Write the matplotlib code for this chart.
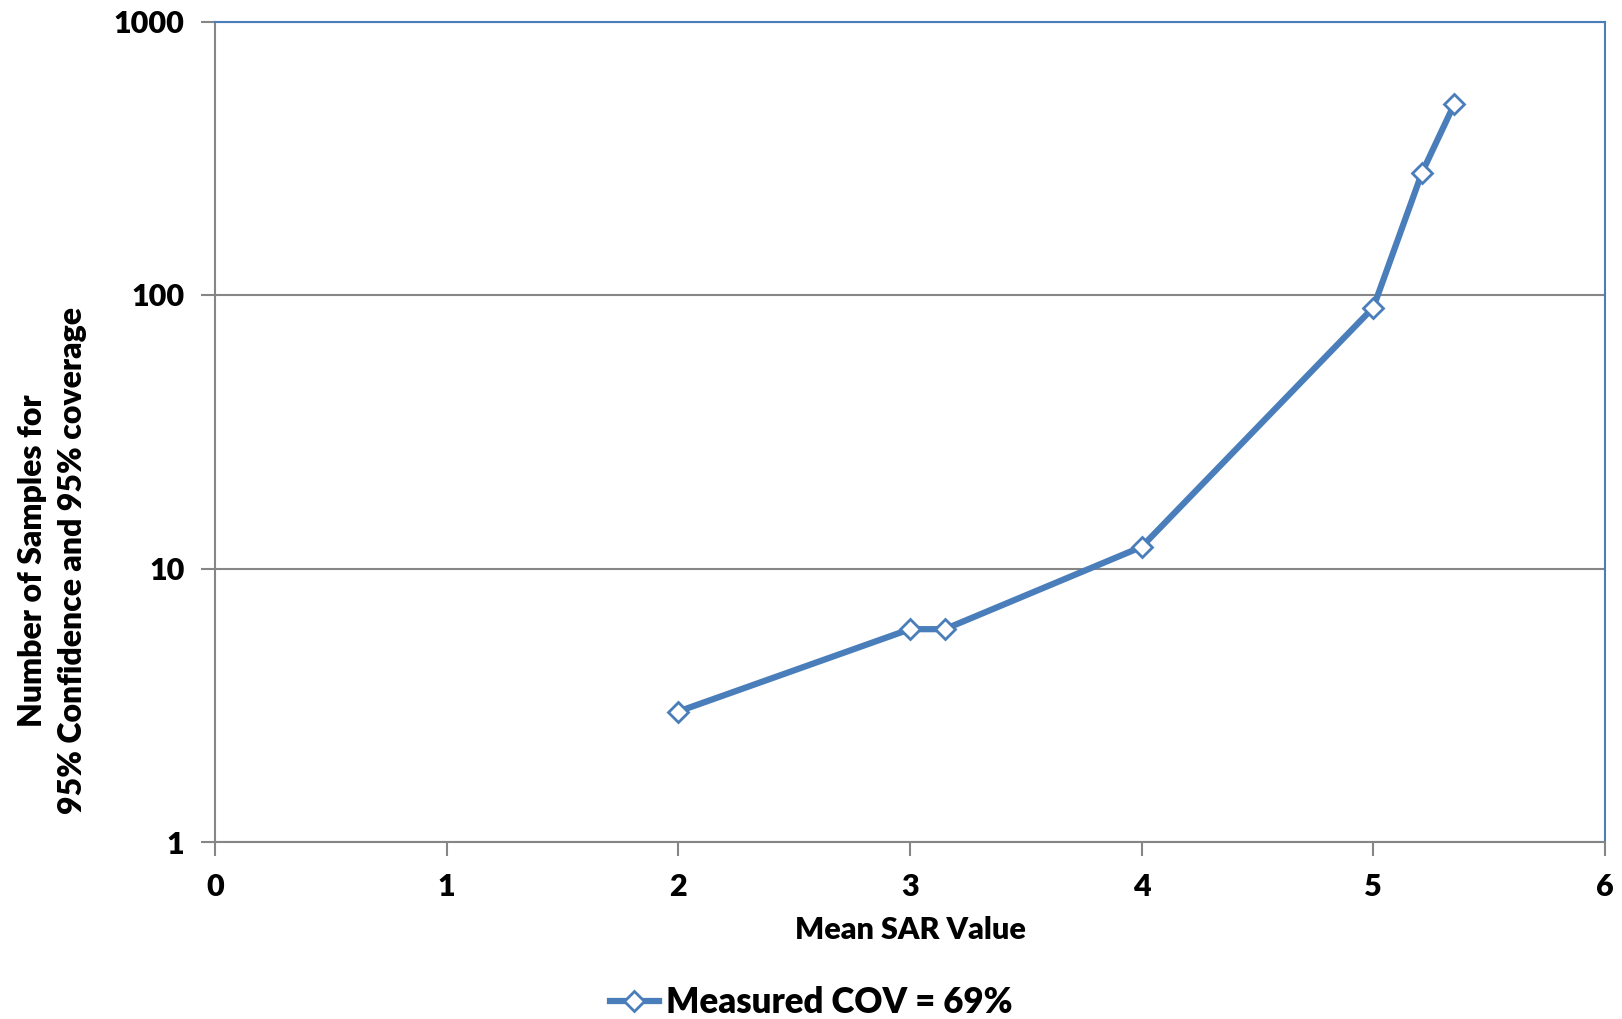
import matplotlib.pyplot as plt

# data
mean_sar = [2.0, 3.0, 3.15, 4.0, 5.0, 5.21, 5.35]
n_samples = [3, 6, 6, 12, 90, 280, 500]
series_label = "Measured COV = 69%"

x_ticks = [0, 1, 2, 3, 4, 5, 6]
y_ticks = [1, 10, 100, 1000]

blue = '#4A7EBB'
grey = '#868686'

plt.rcParams['font.family'] = ['Lato', 'DejaVu Sans']
plt.rcParams['font.weight'] = 'heavy'

fig = plt.figure(figsize=(16.22, 10.19), dpi=100)
ax = fig.add_axes([215 / 1622, 1 - 842 / 1019, (1605 - 215) / 1622, (842 - 21.5) / 1019])

ax.plot(mean_sar, n_samples, '-D', color=blue, lw=4.5, ms=10, mfc='white',
        mec=blue, mew=2, label=series_label, zorder=3)

ax.set_yscale('log')
ax.set_xlim(0, 6)
ax.set_ylim(1, 1000)
ax.set_xticks(x_ticks)
ax.set_xticklabels([str(v) for v in x_ticks])
ax.set_yticks(y_ticks)
ax.set_yticklabels([str(v) for v in y_ticks])
ax.minorticks_off()

ax.grid(axis='y', color=grey, lw=1.5)
ax.set_axisbelow(True)

for s in ['left', 'bottom']:
    ax.spines[s].set_color(grey)
    ax.spines[s].set_linewidth(1.5)
for s in ['top', 'right']:
    ax.spines[s].set_color(blue)
    ax.spines[s].set_linewidth(1.5)

ax.tick_params(axis='both', direction='out', length=10, width=1.5, color=grey,
               labelsize=22, pad=12)
for lbl in ax.get_xticklabels() + ax.get_yticklabels():
    lbl.set_fontweight('heavy')

ax.set_xlabel('Mean SAR Value', fontsize=22, fontweight='heavy', labelpad=11)
ax.set_ylabel('Number of Samples for\n95% Confidence and 95% coverage',
              fontsize=23, fontweight='heavy', linespacing=1.45)
ax.yaxis.set_label_coords(-0.092, 0.343)

fig.legend(loc='lower center', bbox_to_anchor=(0.5, 0.0), frameon=False,
           borderaxespad=0, borderpad=0,
           prop={'size': 25, 'weight': 'heavy'}, handlelength=1.4, handletextpad=0.2)

fig.savefig('out.png', dpi=100)
